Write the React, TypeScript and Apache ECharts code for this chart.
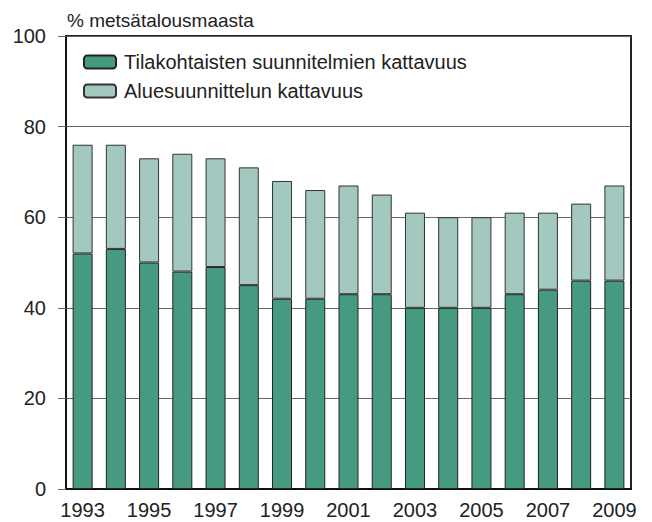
import React, { useEffect, useRef } from "react";
import * as echarts from "echarts";

const years = ["1993","1994","1995","1996","1997","1998","1999","2000","2001","2002","2003","2004","2005","2006","2007","2008","2009"];
const farmPlans = [52, 53, 50, 48, 49, 45, 42, 42, 43, 43, 40, 40, 40, 43, 44, 46, 46];
const totalCoverage = [76, 76, 73, 74, 73, 71, 68, 66, 67, 65, 61, 60, 60, 61, 61, 63, 67];
const regionalPlans = totalCoverage.map((t, i) => t - farmPlans[i]);
const yTicks = [0, 20, 40, 60, 80, 100];

const FONT = "'Liberation Sans Narrow', 'Arial Narrow', 'Liberation Sans', Arial, sans-serif";

export default function App() {
  const ref = useRef<HTMLDivElement>(null);
  useEffect(() => {
    if (!ref.current) return;
    const chart = echarts.init(ref.current, undefined, { renderer: "svg" });
    chart.setOption({
      animation: false,
      backgroundColor: "#fff",
      textStyle: { fontFamily: FONT },
      title: {
        text: "% metsätalousmaasta",
        left: 62,
        top: 6,
        textStyle: { fontFamily: FONT, fontSize: 19, fontWeight: "normal", color: "#222" },
      },
      legend: {
        orient: "vertical",
        left: 78,
        top: 47,
        itemWidth: 32,
        itemHeight: 13,
        itemGap: 9,
        textStyle: { fontFamily: FONT, fontSize: 20, color: "#222", padding: [0, 0, 0, 3] },
        data: ["Tilakohtaisten suunnitelmien kattavuus", "Aluesuunnittelun kattavuus"],
      },
      grid: {
        left: 66,
        right: 21,
        top: 36,
        bottom: 33,
        show: true,
        borderColor: "#222",
        borderWidth: 2,
        containLabel: false,
      },
      xAxis: {
        type: "category",
        data: years,
        boundaryGap: true,
        axisLine: { show: true, lineStyle: { color: "#111", width: 2 } },
        axisTick: { show: false },
        axisLabel: {
          interval: 1,
          fontFamily: FONT,
          fontSize: 20,
          color: "#222",
          margin: 11,
        },
        splitLine: { show: false },
      },
      yAxis: {
        type: "value",
        min: yTicks[0],
        max: yTicks[yTicks.length - 1],
        interval: 20,
        axisLine: { show: true, lineStyle: { color: "#111", width: 2 } },
        axisTick: { show: true, length: 8, lineStyle: { color: "#666", width: 1 } },
        axisLabel: { fontFamily: FONT, fontSize: 20, color: "#222", margin: 20 },
        splitLine: { show: true, lineStyle: { color: "#666", width: 1 } },
      },
      series: [
        {
          name: "Tilakohtaisten suunnitelmien kattavuus",
          type: "bar",
          stack: "total",
          data: farmPlans,
          barWidth: 20,
          itemStyle: { color: "#479a82", borderColor: "#222", borderWidth: 1 },
        },
        {
          name: "Aluesuunnittelun kattavuus",
          type: "bar",
          stack: "total",
          data: regionalPlans,
          barWidth: 20,
          itemStyle: { color: "#a2c8bf", borderColor: "#333", borderWidth: 1 },
        },
      ],
    });
    return () => chart.dispose();
  }, []);
  return (
    <div
      ref={ref}
      style={{ position: "absolute", left: 0, top: 0, width: 652, height: 522 }}
    />
  );
}
